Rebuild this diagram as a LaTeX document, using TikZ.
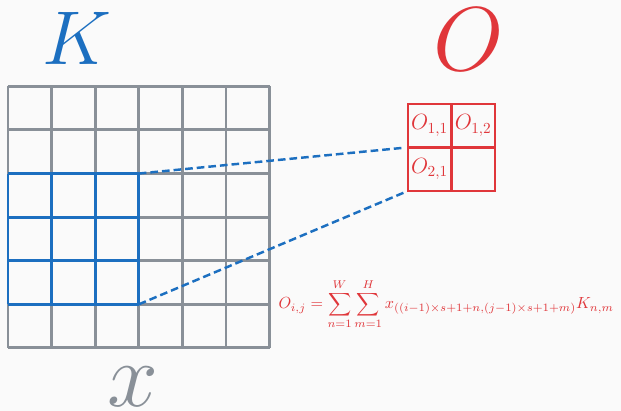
\documentclass[tikz,border=0pt]{standalone}
\usetikzlibrary{positioning}
\definecolor{kblue}{HTML}{1C6FC0}
\definecolor{ored}{HTML}{E0363A}
\definecolor{xgray}{HTML}{899098}
\definecolor{bggray}{HTML}{FAFAFA}

\begin{document}
\begin{tikzpicture}[
    gridline/.style={xgray, line width=1.9pt},
    winline/.style={kblue, line width=1.9pt},
    biglabel/.style={font=\Huge, transform shape, anchor=base, inner sep=0pt},
    ocell/.style={draw=ored, line width=1.5pt, minimum size=1cm, inner sep=0pt, outer sep=0pt, text=ored, font=\fontsize{14}{14}\selectfont},
    link/.style={kblue, line width=1.6pt, dash pattern=on 5pt off 2.6pt, shorten >=3pt}
  ]
  \useasboundingbox (-0.183,-1.445) rectangle (14.06,7.98);
  \fill[bggray] (-0.183,-1.445) rectangle (14.06,7.98);

  % --- input x with the kernel window ---
  \draw[gridline] (0,0) grid (6,6);
  \draw[winline] (0,1) grid (3,4);
  \coordinate (wintop) at (3,4);
  \coordinate (winbot) at (3,1);

  \node[biglabel, kblue, scale=2.0] (klabel) at (1.58,6.5) {$K$};
  \node[biglabel, xgray, scale=2.4] (xlabel) at (2.87,-1.35) {$x$};

  % --- output O ---
  \node[ocell] (o11) at (9.67,5.1) {$O_{1,1}$};
  \node[ocell, right=0pt of o11] (o12) {$O_{1,2}$};
  \node[ocell, below=0pt of o11] (o21) {$O_{2,1}$};
  \node[ocell, right=0pt of o21] (o22) {};

  \node[biglabel, ored, scale=2.38] (olabel) at (10.57,6.36) {$O$};

  % --- window maps to one output entry ---
  \draw[link] (wintop) -- (o11.south west);
  \draw[link] (winbot) -- (o21.south west);

  \node[ored, anchor=west, inner sep=0pt, font=\normalsize, scale=1.05, transform shape] (formula) at (6.2,1.0)
    {$\displaystyle O_{i,j}=\sum_{n=1}^{W}\sum_{m=1}^{H}x_{((i-1)\times s+1+n,(j-1)\times s+1+m)}K_{n,m}$};
\end{tikzpicture}
\end{document}
